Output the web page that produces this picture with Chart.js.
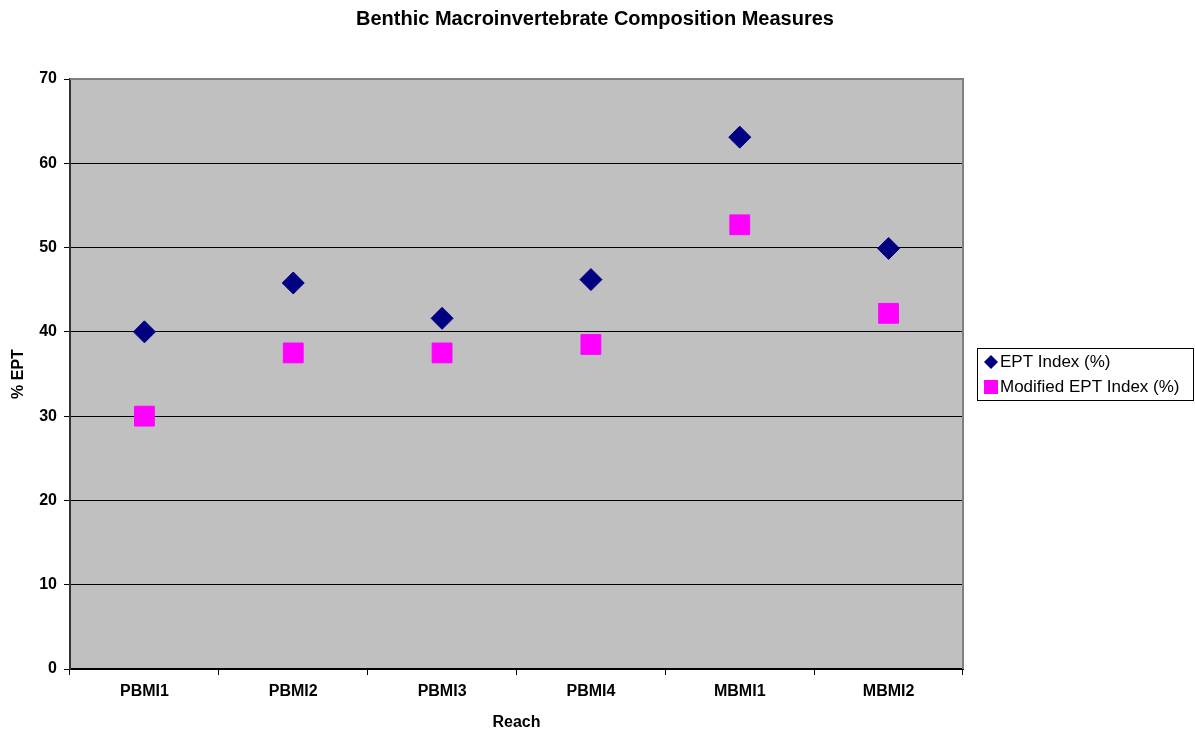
<!DOCTYPE html>
<html>
<head>
<meta charset="utf-8">
<script src="https://cdn.jsdelivr.net/npm/chart.js@4.4.1/dist/chart.umd.min.js"></script>
<style>
  html, body { margin: 0; padding: 0; background: #fff; }
  #wrap { width: 1195px; height: 732px; position: relative; }
</style>
</head>
<body>
<div id="wrap"><canvas id="myChart"></canvas></div>
<script>
const reaches = ['PBMI1', 'PBMI2', 'PBMI3', 'PBMI4', 'MBMI1', 'MBMI2'];
const eptIndex = [40.0, 45.8, 41.6, 46.2, 63.1, 49.9];
const modifiedEpt = [30.0, 37.5, 37.5, 38.5, 52.7, 42.2];
const seriesNames = ['EPT Index (%)', 'Modified EPT Index (%)'];
const chartTitle = 'Benthic Macroinvertebrate Composition Measures';

const FONT = "'Liberation Sans', Arial, sans-serif";

// grey plot area + frame like the old excel charts
const plotFrame = {
    id: 'plotFrame',
    beforeDraw(chart) {
        const {ctx, chartArea: a} = chart;
        ctx.save();
        ctx.fillStyle = '#c0c0c0';
        ctx.fillRect(a.left, a.top, a.right - a.left, a.bottom - a.top);
        ctx.restore();
    },
    afterDatasetsDraw(chart) {
        const {ctx, chartArea: a} = chart;
        ctx.save();
        ctx.strokeStyle = '#808080';
        ctx.lineWidth = 2;
        ctx.beginPath();
        ctx.moveTo(a.left, a.top);
        ctx.lineTo(a.right, a.top);
        ctx.lineTo(a.right, a.bottom);
        ctx.stroke();
        ctx.restore();
    }
};

// title centred on the whole canvas, not just the plot
const pageTitle = {
    id: 'pageTitle',
    afterDraw(chart) {
        const ctx = chart.ctx;
        ctx.save();
        ctx.font = 'bold 20px ' + FONT;
        ctx.fillStyle = '#000';
        ctx.textAlign = 'center';
        ctx.textBaseline = 'middle';
        ctx.fillText(chartTitle, 595, 19);
        ctx.restore();
    }
};

// boxed legend on the right
const boxLegend = {
    id: 'boxLegend',
    afterDraw(chart) {
        const ctx = chart.ctx;
        const x = 977, y = 348, w = 216, h = 52;
        ctx.save();
        ctx.fillStyle = '#fff';
        ctx.fillRect(x, y, w, h);
        ctx.strokeStyle = '#000';
        ctx.lineWidth = 1;
        ctx.strokeRect(x + 0.5, y + 0.5, w, h);
        ctx.font = '17px ' + FONT;
        ctx.textBaseline = 'middle';
        chart.data.datasets.forEach((ds, i) => {
            const cy = y + 14 + i * 25;
            ctx.fillStyle = ds.backgroundColor;
            if (ds.pointStyle === 'rectRot') {
                ctx.beginPath();
                ctx.moveTo(x + 14, cy - 7);
                ctx.lineTo(x + 21, cy);
                ctx.lineTo(x + 14, cy + 7);
                ctx.lineTo(x + 7, cy);
                ctx.closePath();
                ctx.fill();
            } else {
                ctx.fillRect(x + 7, cy - 7, 14, 14);
            }
            ctx.fillStyle = '#000';
            ctx.fillText(ds.label, x + 23, cy);
        });
        ctx.restore();
    }
};

new Chart(document.getElementById('myChart'), {
    type: 'line',
    data: {
        labels: reaches,
        datasets: [{
            label: seriesNames[0],
            data: eptIndex,
            showLine: false,
            pointStyle: 'rectRot',
            pointRadius: 11,
            pointHoverRadius: 11,
            backgroundColor: '#000080',
            borderColor: '#000080',
            borderWidth: 1
        }, {
            label: seriesNames[1],
            data: modifiedEpt,
            showLine: false,
            pointStyle: 'rect',
            pointRadius: 14,
            pointHoverRadius: 14,
            backgroundColor: '#ff00ff',
            borderColor: '#ff00ff',
            borderWidth: 1
        }]
    },
    options: {
        responsive: true,
        maintainAspectRatio: false,
        animation: false,
        layout: { padding: { left: 0, right: 232, top: 79, bottom: 0 } },
        plugins: {
            legend: { display: false },
            tooltip: { enabled: false },
            title: { display: false }
        },
        scales: {
            x: {
                offset: true,
                afterFit: (s) => { s.height = 63; },
                grid: {
                    offset: true,
                    drawOnChartArea: false,
                    tickLength: 6,
                    color: '#000'
                },
                border: { color: '#000', width: 2 },
                ticks: {
                    color: '#000',
                    padding: 7,
                    font: { family: FONT, size: 16, weight: 'bold' }
                },
                title: {
                    display: true,
                    text: 'Reach',
                    color: '#000',
                    font: { family: FONT, size: 16, weight: 'bold', lineHeight: 1.2 },
                    padding: { top: 0, bottom: 0 }
                }
            },
            y: {
                min: 0,
                max: 70,
                afterFit: (s) => { s.width = 70; },
                grid: {
                    color: (c) => c.tick && c.tick.value === 70 ? '#808080' : '#000',
                    lineWidth: 1,
                    tickLength: 6,
                    tickColor: '#000'
                },
                border: { color: '#333', width: 2 },
                ticks: {
                    stepSize: 10,
                    color: '#000',
                    padding: 7,
                    font: { family: FONT, size: 16, weight: 'bold' }
                },
                title: {
                    display: true,
                    text: '% EPT',
                    color: '#000',
                    font: { family: FONT, size: 16, weight: 'bold', lineHeight: 1.2 },
                    padding: { top: 9, bottom: 0 }
                }
            }
        }
    },
    plugins: [plotFrame, pageTitle, boxLegend]
});
</script>
</body>
</html>
